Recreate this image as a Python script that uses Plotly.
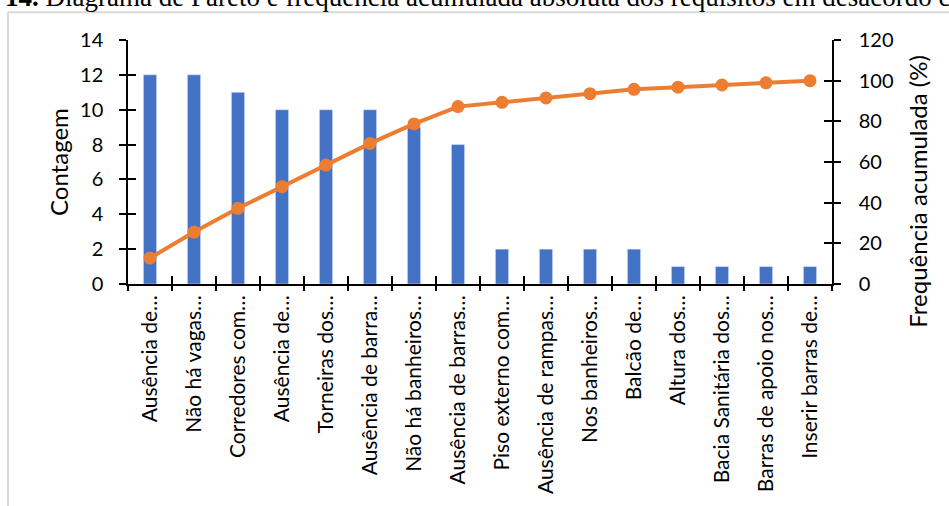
import plotly.graph_objects as go

# Requisitos em desacordo (rótulos abreviados como no eixo)
categorias = [
    "Ausência de…", "Não há vagas…", "Corredores com…", "Ausência de…",
    "Torneiras dos…", "Ausência de barra…", "Não há banheiros…",
    "Ausência de barras…", "Piso externo com…", "Ausência de rampas…",
    "Nos banheiros…", "Balcão de…", "Altura dos…", "Bacia Sanitária dos…",
    "Barras de apoio nos…", "Inserir barras de…",
]
contagem = [12, 12, 11, 10, 10, 10, 9, 8, 2, 2, 2, 2, 1, 1, 1, 1]

total = sum(contagem)
acumulada = []
soma = 0
for c in contagem:
    soma += c
    acumulada.append(100.0 * soma / total)

y_ticks_left = [0, 2, 4, 6, 8, 10, 12, 14]
y_ticks_right = [0, 20, 40, 60, 80, 100, 120]
legenda = ("<b>14.</b> Diagrama de Pareto e frequência acumulada absoluta "
           "dos requisitos em desacordo com")

W, H = 949, 506
ML, MR, MT, MB = 128, W - 832, 40, H - 286
PW, PH = W - ML - MR, H - MT - MB

AZUL = "#4472C4"
LARANJA = "#ED7D31"
FONTE = "Lato"

xpos = list(range(len(categorias)))
fronteiras = [i - 0.5 for i in range(len(categorias) + 1)]
xr = [-0.5, len(categorias) - 0.5]


def px_x(p):
    return (p - ML) / PW


def px_y(p):
    return (H - MB - p) / PH


fig = go.Figure()
fig.add_trace(go.Bar(x=xpos, y=contagem, marker=dict(color=AZUL),
                     xaxis="x", yaxis="y", showlegend=False))
fig.add_trace(go.Scatter(x=xpos, y=acumulada, mode="lines+markers",
                         line=dict(color=LARANJA, width=4),
                         marker=dict(color=LARANJA, size=13),
                         xaxis="x", yaxis="y2", showlegend=False))
# traços vazios só para ativar os eixos auxiliares de marcas cruzadas
for xa, ya in [("x2", "y"), ("x3", "y3"), ("x", "y4")]:
    fig.add_trace(go.Scatter(x=[None], y=[None], xaxis=xa, yaxis=ya,
                             showlegend=False, hoverinfo="skip"))

tick_font = dict(family=FONTE, size=20, color="#000000")
eixo = dict(showgrid=False, zeroline=False, showline=True,
            linecolor="#000000", linewidth=1.5, tickcolor="#000000",
            tickwidth=1.5)

fig.update_layout(
    width=W, height=H,
    margin=dict(l=ML, r=MR, t=MT, b=MB),
    paper_bgcolor="#ffffff", plot_bgcolor="#ffffff",
    bargap=0.7,
    xaxis=dict(**eixo, range=xr, tickmode="array", tickvals=xpos,
               ticktext=categorias, tickangle=-90, ticks="",
               ticklabelstandoff=1,
               tickfont=dict(family=FONTE, size=21, color="#000000"),
               anchor="y"),
    xaxis2=dict(**eixo, range=xr, tickmode="array", tickvals=fronteiras,
                ticks="outside", ticklen=5, showticklabels=False,
                overlaying="x", anchor="y"),
    xaxis3=dict(**eixo, range=xr, tickmode="array", tickvals=fronteiras,
                ticks="inside", ticklen=8, showticklabels=False,
                overlaying="x", anchor="y"),
    yaxis=dict(**eixo, range=[0, 14], tickmode="array", tickvals=y_ticks_left,
               ticks="outside", ticklen=7, ticklabelstandoff=12,
               tickfont=tick_font, anchor="x"),
    yaxis3=dict(**eixo, range=[0, 14], tickmode="array", tickvals=y_ticks_left,
                ticks="inside", ticklen=8, showticklabels=False,
                overlaying="y", side="left", anchor="x"),
    yaxis2=dict(**eixo, range=[0, 120], tickmode="array", tickvals=y_ticks_right,
                ticks="outside", ticklen=7, ticklabelstandoff=14,
                tickfont=tick_font, overlaying="y", side="right", anchor="x"),
    yaxis4=dict(**eixo, range=[0, 120], tickmode="array", tickvals=y_ticks_right,
                ticks="inside", ticklen=8, showticklabels=False,
                overlaying="y", side="right", anchor="x"),
    shapes=[
        dict(type="line", xref="paper", yref="paper",
             x0=px_x(8), x1=px_x(8), y0=px_y(12), y1=px_y(H + 5),
             line=dict(color="#d9d9d9", width=2), layer="below"),
        dict(type="line", xref="paper", yref="paper",
             x0=px_x(8), x1=px_x(W + 5), y0=px_y(12), y1=px_y(12),
             line=dict(color="#d9d9d9", width=2), layer="below"),
    ],
    annotations=[
        dict(text="Contagem", xref="paper", yref="paper",
             x=px_x(58), y=px_y(163), xanchor="center", yanchor="middle",
             textangle=-90, showarrow=False,
             font=dict(family=FONTE, size=24, color="#000000")),
        dict(text="Frequência acumulada (%)", xref="paper", yref="paper",
             x=px_x(918), y=px_y(193), xanchor="center", yanchor="middle",
             textangle=-90, showarrow=False,
             font=dict(family=FONTE, size=24, color="#000000")),
        dict(text=legenda, xref="paper", yref="paper",
             x=px_x(3), y=px_y(-3), xanchor="left", yanchor="middle",
             showarrow=False,
             font=dict(family="Liberation Serif", size=27, color="#000000")),
    ],
)

fig.write_html("out.html")
